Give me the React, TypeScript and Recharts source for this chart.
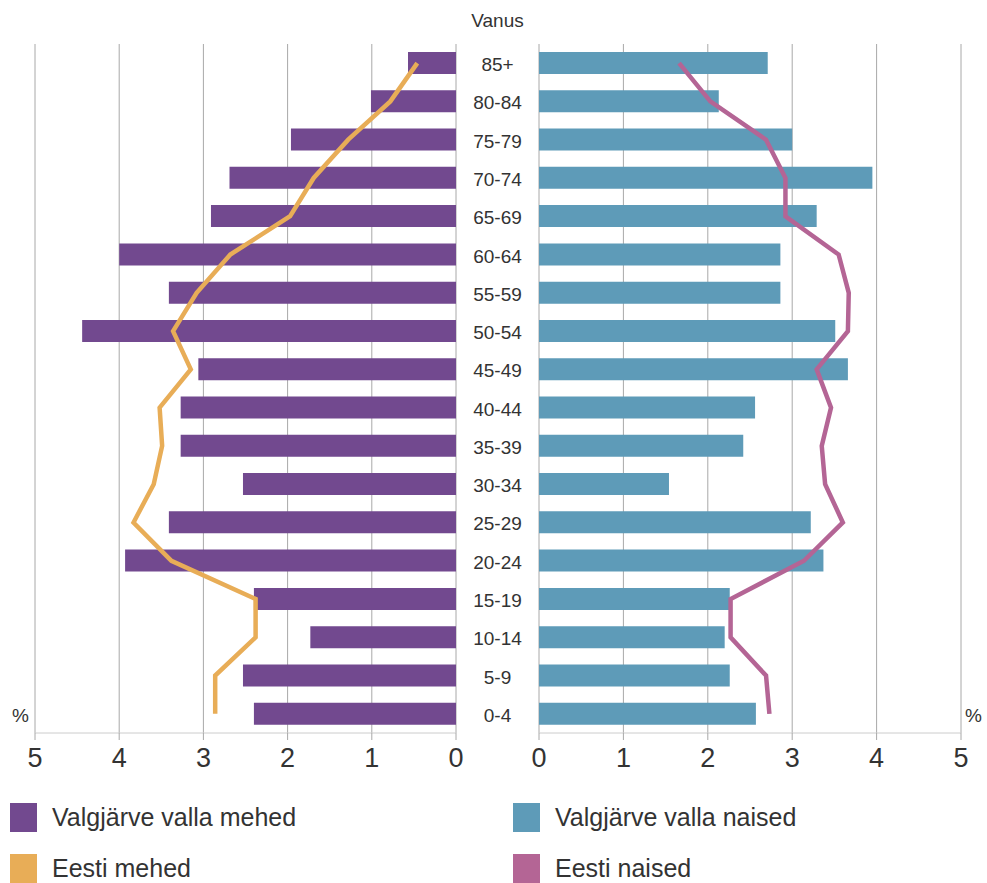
import React from 'react';
import {
    ComposedChart,
    Bar,
    Line,
    XAxis,
    YAxis,
    CartesianGrid
} from 'recharts';

const ageGroups = ['85+', '80-84', '75-79', '70-74', '65-69', '60-64', '55-59', '50-54', '45-49', '40-44', '35-39', '30-34', '25-29', '20-24', '15-19', '10-14', '5-9', '0-4'];
const valgjarveMehed = [0.57, 1.01, 1.96, 2.69, 2.91, 4.0, 3.41, 4.44, 3.06, 3.27, 3.27, 2.53, 3.41, 3.93, 2.4, 1.73, 2.53, 2.4];
const eestiMehed = [0.46, 0.78, 1.28, 1.69, 1.97, 2.68, 3.08, 3.36, 3.15, 3.52, 3.49, 3.59, 3.83, 3.38, 2.38, 2.38, 2.86, 2.86];
const valgjarveNaised = [2.71, 2.13, 3.0, 3.95, 3.29, 2.86, 2.86, 3.51, 3.66, 2.56, 2.42, 1.54, 3.22, 3.37, 2.26, 2.2, 2.26, 2.57];
const eestiNaised = [1.66, 2.03, 2.69, 2.92, 2.92, 3.55, 3.67, 3.66, 3.29, 3.46, 3.35, 3.39, 3.6, 3.14, 2.27, 2.27, 2.69, 2.73];
const xTicks = [0, 1, 2, 3, 4, 5];

const data = ageGroups.map((age, i) => ({
    age,
    menLocal: valgjarveMehed[i],
    menEesti: eestiMehed[i],
    womenLocal: valgjarveNaised[i],
    womenEesti: eestiNaised[i]
}));

const FONT = '"Liberation Sans", Arial, sans-serif';
const TEXT = '#333333';
const PURPLE = '#72498f';
const BLUE = '#5e9bb8';
const ORANGE = '#e8ad57';
const PINK = '#b46595';

const legendItems = [
    { label: 'Valgjärve valla mehed', color: PURPLE, left: 10, top: 803 },
    { label: 'Valgjärve valla naised', color: BLUE, left: 513, top: 803 },
    { label: 'Eesti mehed', color: ORANGE, left: 10, top: 854 },
    { label: 'Eesti naised', color: PINK, left: 513, top: 854 }
];

const tickStyle = { fontSize: 27, fill: TEXT, fontFamily: FONT };

const AgeTick = (props: any) => (
    <text
        x={41.5}
        y={props.y}
        dy="0.42em"
        textAnchor="middle"
        fontSize={19}
        fill={TEXT}
        fontFamily={FONT}
    >
        {props.payload.value}
    </text>
);

const App: React.FC = () => {
    return (
        <div style={{ position: 'absolute', left: 0, top: 0, width: 987, height: 883, background: '#fff', fontFamily: FONT, color: TEXT }}>
            <div style={{ position: 'absolute', left: 0, width: 995, top: 10, textAlign: 'center', fontSize: 19 }}>Vanus</div>

            <div style={{ position: 'absolute', left: 0, top: 0 }}>
                <ComposedChart
                    width={470}
                    height={790}
                    data={data}
                    layout="vertical"
                    margin={{ top: 44, right: 14, left: 35, bottom: 17 }}
                >
                    <CartesianGrid horizontal={false} stroke="#a8a8a8" />
                    <XAxis
                        type="number"
                        domain={[0, 5]}
                        ticks={xTicks}
                        reversed
                        height={40}
                        tick={tickStyle}
                        tickSize={7}
                        tickMargin={8}
                        stroke="#cccccc"
                        tickLine={{ stroke: '#a8a8a8' }}
                    />
                    <YAxis type="category" dataKey="age" hide />
                    <Bar dataKey="menLocal" fill={PURPLE} barSize={22} isAnimationActive={false} />
                    <Line type="linear" dataKey="menEesti" stroke={ORANGE} strokeWidth={4.5} dot={false} isAnimationActive={false} />
                </ComposedChart>
            </div>

            <div style={{ position: 'absolute', left: 456, top: 0 }}>
                <ComposedChart
                    width={531}
                    height={790}
                    data={data}
                    layout="vertical"
                    margin={{ top: 44, right: 26, left: 0, bottom: 17 }}
                >
                    <CartesianGrid horizontal={false} stroke="#a8a8a8" />
                    <XAxis
                        type="number"
                        domain={[0, 5]}
                        ticks={xTicks}
                        height={40}
                        tick={tickStyle}
                        tickSize={7}
                        tickMargin={8}
                        stroke="#cccccc"
                        tickLine={{ stroke: '#a8a8a8' }}
                    />
                    <YAxis
                        type="category"
                        dataKey="age"
                        width={83}
                        axisLine={false}
                        tickLine={false}
                        tick={<AgeTick />}
                    />
                    <Bar dataKey="womenLocal" fill={BLUE} barSize={22} isAnimationActive={false} />
                    <Line type="linear" dataKey="womenEesti" stroke={PINK} strokeWidth={4.5} dot={false} isAnimationActive={false} />
                </ComposedChart>
            </div>

            <div style={{ position: 'absolute', left: 12, top: 705, fontSize: 19 }}>%</div>
            <div style={{ position: 'absolute', left: 965, top: 705, fontSize: 19 }}>%</div>

            {legendItems.map((item) => (
                <div key={item.label} style={{ position: 'absolute', left: item.left, top: item.top, display: 'flex', alignItems: 'center' }}>
                    <div style={{ width: 27, height: 29, background: item.color }} />
                    <span style={{ marginLeft: 15, fontSize: 25, whiteSpace: 'nowrap' }}>{item.label}</span>
                </div>
            ))}
        </div>
    );
};

export default App;
